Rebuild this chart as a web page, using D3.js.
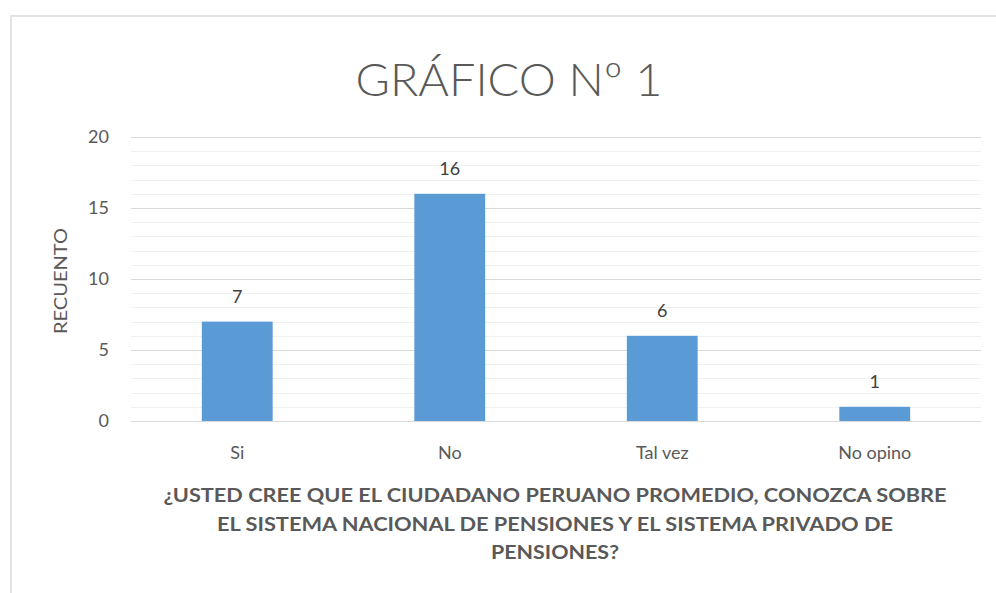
<!DOCTYPE html>
<html><head><meta charset="utf-8">
<script src="https://cdn.jsdelivr.net/npm/d3@7"></script>
<style>body{margin:0;background:#fff}svg{display:block}</style>
</head><body>
<svg id="c" width="996" height="593"></svg>
<script>
const categories = ["Si", "No", "Tal vez", "No opino"];
const values = [7, 16, 6, 1];
const yTicks = [0, 5, 10, 15, 20];
const title = "GRÁFICO Nº 1";
const yTitle = "RECUENTO";
const xTitleLines = ["¿USTED CREE QUE EL CIUDADANO PERUANO PROMEDIO, CONOZCA SOBRE",
  "EL SISTEMA NACIONAL DE PENSIONES Y EL SISTEMA PRIVADO DE", "PENSIONES?"];

(function () {
const svg = d3.select("#c");
const font = "Lato, 'Open Sans', sans-serif";
const txt = "#595959";

svg.append("rect").attr("x", 11).attr("y", 16).attr("width", 1000).attr("height", 600)
  .attr("fill", "#fff").attr("stroke", "#e3e3e3").attr("stroke-width", 2);

const pLeft = 131, pRight = 981, pTop = 137, pBottom = 421;
const x = d3.scaleBand().domain(categories).range([pLeft, pRight]).padding(0);
const y = d3.scaleLinear().domain([0, 20]).range([pBottom, pTop]);

// minor gridlines
svg.append("g").selectAll("line").data(d3.range(0, 21).filter(v => v % 5 !== 0)).join("line")
  .attr("x1", pLeft).attr("x2", pRight).attr("y1", d => Math.round(y(d)) + 0.5).attr("y2", d => Math.round(y(d)) + 0.5)
  .attr("stroke", "#f0f0f0").attr("stroke-width", 1);
// major gridlines
svg.append("g").selectAll("line").data(yTicks).join("line")
  .attr("x1", pLeft).attr("x2", pRight).attr("y1", d => Math.round(y(d)) + 0.5).attr("y2", d => Math.round(y(d)) + 0.5)
  .attr("stroke", "#d9d9d9").attr("stroke-width", 1);

// y axis labels
const yAxis = d3.axisLeft(y).tickValues(yTicks).tickSize(0).tickPadding(0);
const gy = svg.append("g").attr("transform", `translate(${pLeft - 22},0)`).call(yAxis);
gy.select(".domain").remove();
gy.selectAll("text").attr("font-family", font).attr("font-size", 18).attr("fill", txt);

// bars
const bw = x.bandwidth() / 3;
svg.append("g").selectAll("rect").data(values).join("rect")
  .attr("x", (d, i) => x(categories[i]) + x.bandwidth() / 2 - bw / 2)
  .attr("y", d => y(d)).attr("width", bw).attr("height", d => y(0) - y(d))
  .attr("fill", "#5B9BD5");

// value labels
svg.append("g").selectAll("text").data(values).join("text")
  .attr("x", (d, i) => x(categories[i]) + x.bandwidth() / 2)
  .attr("y", d => y(d) - 19).attr("text-anchor", "middle")
  .attr("font-family", font).attr("font-size", 18).attr("fill", "#404040").text(d => d);

// x axis category labels
const xAxis = d3.axisBottom(x).tickSize(0).tickPadding(0);
const gx = svg.append("g").attr("transform", `translate(0,${pBottom + 25})`).call(xAxis);
gx.select(".domain").remove();
gx.selectAll("text").attr("font-family", font).attr("font-size", 18).attr("fill", txt);

// title
svg.append("text").attr("x", 509).attr("y", 96).attr("text-anchor", "middle")
  .attr("font-family", font).attr("font-weight", 300).attr("font-size", 46).attr("fill", txt)
  .attr("textLength", 307).attr("lengthAdjust", "spacingAndGlyphs").text(title);

// y title
svg.append("text").attr("transform", "translate(67,281) rotate(-90)").attr("text-anchor", "middle")
  .attr("font-family", font).attr("font-size", 18).attr("fill", txt)
  .attr("textLength", 106).attr("lengthAdjust", "spacingAndGlyphs").text(yTitle);

// x title
const xw = [783, 676, 128];
const xy = [502, 531, 559];
xTitleLines.forEach((l, i) => {
  svg.append("text").attr("x", 555).attr("y", xy[i]).attr("text-anchor", "middle")
    .attr("font-family", font).attr("font-weight", 700).attr("font-size", 19).attr("fill", txt)
    .attr("textLength", xw[i]).attr("lengthAdjust", "spacingAndGlyphs").text(l);
});
})();
</script>
</body></html>
